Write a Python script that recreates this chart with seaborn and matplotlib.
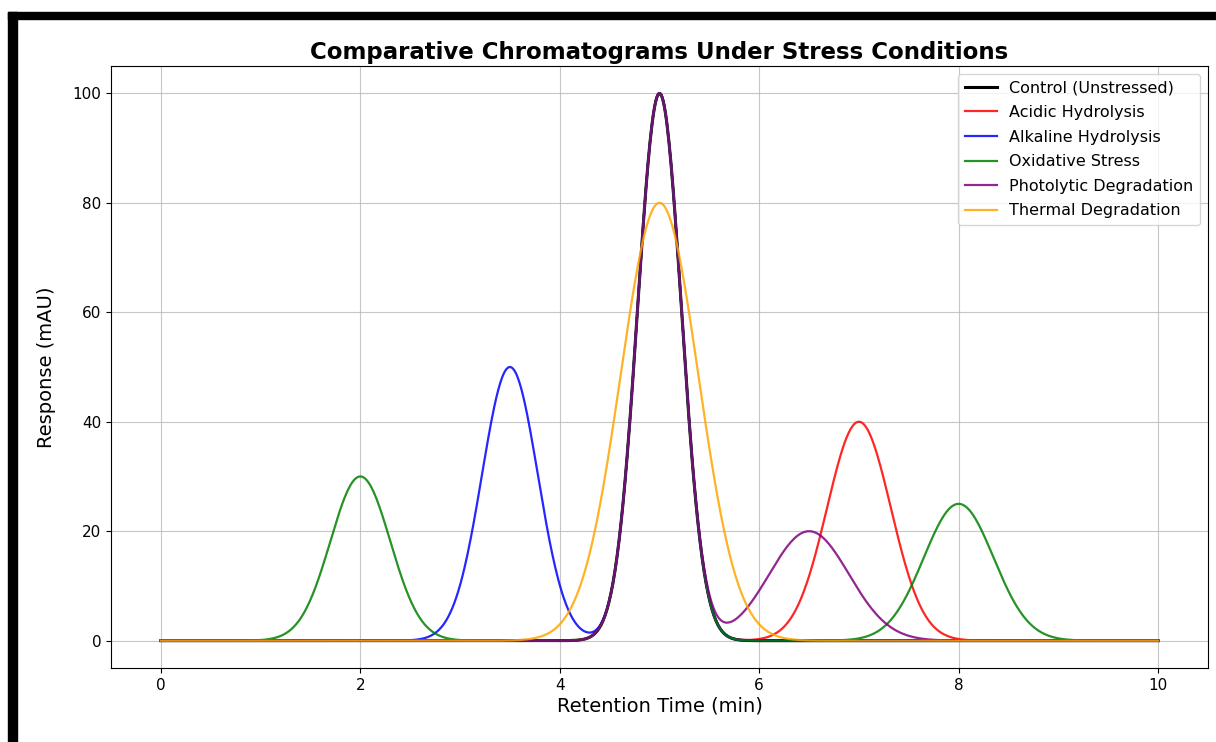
import numpy as np
import pandas as pd
import matplotlib
matplotlib.use("Agg")
import matplotlib.pyplot as plt
from matplotlib.patches import Rectangle
import seaborn as sns

# Stress conditions and their peaks (retention time, height, width)
conditions = ["Control (Unstressed)", "Acidic Hydrolysis", "Alkaline Hydrolysis",
              "Oxidative Stress", "Photolytic Degradation", "Thermal Degradation"]
colors = ["black", "red", "blue", "green", "purple", "orange"]
peak_rt = [[5.0], [5.0, 7.0], [3.5, 5.0], [2.0, 5.0, 8.0], [5.0, 6.5], [5.0]]
peak_height = [[100], [100, 40], [50, 100], [30, 100, 25], [100, 20], [80]]
peak_width = [[0.22], [0.22, 0.32], [0.28, 0.22], [0.3, 0.22, 0.35], [0.22, 0.4], [0.39]]

time = np.linspace(0, 10, 1000)

frames = []
for name, rts, hs, ws in zip(conditions, peak_rt, peak_height, peak_width):
    signal = np.zeros_like(time)
    for rt, h, w in zip(rts, hs, ws):
        signal += h * np.exp(-((time - rt) ** 2) / (2 * w ** 2))
    frames.append(pd.DataFrame({"time": time, "response": signal, "condition": name}))
df = pd.concat(frames, ignore_index=True)

fig, ax = plt.subplots(figsize=(12.16, 7.42), dpi=100)
fig.subplots_adjust(left=0.0913, right=0.9934, top=0.911, bottom=0.0997)

for i, (name, col) in enumerate(zip(conditions, colors)):
    sub = df[df["condition"] == name]
    sns.lineplot(data=sub, x="time", y="response", color=col, label=name,
                 linewidth=2.2 if i == 0 else 1.6, alpha=1 if i == 0 else 0.85, ax=ax)

ax.set_title("Comparative Chromatograms Under Stress Conditions", fontsize=16.5,
             fontweight="bold", pad=5)
ax.set_xlabel("Retention Time (min)", fontsize=14, labelpad=3)
ax.set_ylabel("Response (mAU)", fontsize=14, labelpad=12)
ax.tick_params(labelsize=11)
ax.grid(True, alpha=0.7)
ax.legend(loc="upper right", fontsize=11.5, labelspacing=0.6)

# black frame of the screenshot
fig.add_artist(Rectangle((8 / 1216, 0), 9 / 1216, 1 - 12 / 742, transform=fig.transFigure,
                         color="black", zorder=10))
fig.add_artist(Rectangle((8 / 1216, 1 - 19 / 742), 1 - 8 / 1216, 7 / 742, transform=fig.transFigure,
                         color="black", zorder=10))

plt.savefig("out.png", dpi=100)
